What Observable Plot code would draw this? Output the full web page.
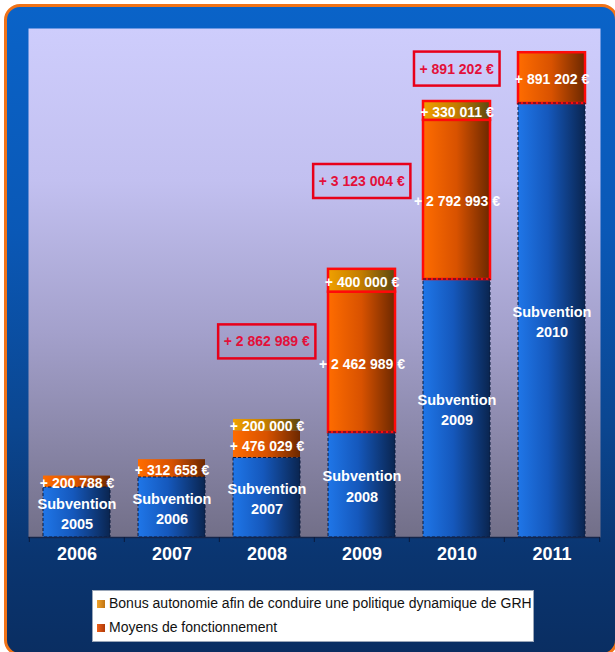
<!DOCTYPE html>
<html>
<head>
<meta charset="utf-8">
<script src="https://cdn.jsdelivr.net/npm/d3@7"></script>
<script src="https://cdn.jsdelivr.net/npm/@observablehq/plot@0.6"></script>
<style>
  html, body { margin: 0; padding: 0; background: #ffffff; overflow: hidden; }
  #page { position: relative; width: 615px; height: 652px; overflow: hidden; }
  #frame {
    position: absolute; left: 4px; top: 4px; width: 614px; height: 652px;
    box-sizing: border-box; border: 3px solid #f07318; border-radius: 16px;
    background: linear-gradient(to bottom, #0a63c8 0%, #0a58b6 35%, #0b4690 65%, #0a3570 85%, #0a2e62 100%);
  }
  #chart { position: absolute; left: 0; top: 0; }
  #legend {
    position: absolute; left: 92px; top: 590px; width: 442px; height: 52px;
    box-sizing: border-box; background: #ffffff; border: 1px solid #9aa6b8;
    font-family: "Liberation Sans", Arial, sans-serif; font-size: 14px; color: #111;
  }
  .item { position: absolute; left: 4px; height: 16px; line-height: 16px; white-space: nowrap; }
  .sw { display: inline-block; width: 8px; height: 8px; margin-right: 4px; vertical-align: 0px; }
</style>
</head>
<body>
<div id="page">
  <div id="frame"></div>
  <div id="chart"></div>
  <div id="legend">
    <div class="item" style="top:4px"><span class="sw" style="background:linear-gradient(to right,#f2a32a,#c07412)"></span>Bonus autonomie afin de conduire une politique dynamique de GRH</div>
    <div class="item" style="top:28px"><span class="sw" style="background:linear-gradient(to right,#ee6018,#b03a08)"></span>Moyens de fonctionnement</div>
  </div>
</div>
<script>
// ---- data (euros) ----
const years = ["2006", "2007", "2008", "2009", "2010", "2011"];
const subventionLabels = ["Subvention\n2005", "Subvention\n2006", "Subvention\n2007", "Subvention\n2008", "Subvention\n2009", "Subvention\n2010"];
const subvention = [877000, 1053000, 1395000, 1842000, 4526000, 7614000];
const moyens = [200788, 312658, 476029, 2462989, 2792993, 891202];
const bonus = [0, 0, 200000, 400000, 330011, 0];
const highlightYears = ["2009", "2010", "2011"];

const fmt = v => "+ " + d3.format(",")(v).replace(/,/g, " ") + " €";

const rows = years.flatMap((yr, i) => [
  {year: yr, series: "Subvention", value: subvention[i], label: subventionLabels[i]},
  {year: yr, series: "Moyens", value: moyens[i], label: fmt(moyens[i])},
  {year: yr, series: "Bonus", value: bonus[i], label: fmt(bonus[i])}
]);

const sums = years.map((yr, i) => ({
  year: yr, total: moyens[i] + bonus[i], mid: subvention[i] + (moyens[i] + bonus[i]) / 2
})).filter(d => highlightYears.includes(d.year));

const gradOf = {Subvention: "url(#gBlue)", Moyens: "url(#gMoyens)", Bonus: "url(#gBonus)"};

const W = 615, H = 580, mL = 28, mR = 15, mT = 28, mB = 43;
const step = (W - mL - mR) / years.length;
const font = "Liberation Sans, Arial, sans-serif";
const SUM_RED = "#e3103a";

const plot = Plot.plot({
  width: W, height: H,
  marginLeft: mL, marginRight: mR, marginTop: mT, marginBottom: mB,
  style: {background: "transparent", fontFamily: font, overflow: "visible"},
  x: {domain: years, paddingInner: 0.29, paddingOuter: 0.145, axis: null, label: null},
  y: {domain: [0, 8.93e6], axis: null, label: null},
  marks: [
    Plot.frame({fill: "url(#gPlot)", stroke: "none"}),
    Plot.barY(rows, Plot.stackY({
      x: "year", y: "value", z: "series",
      fill: d => gradOf[d.series],
      stroke: d => (d.series !== "Subvention" && d.value > 0 && highlightYears.includes(d.year)) ? "#ff0a0a" : "none",
      strokeWidth: 2.5,
      inset: 0
    })),
    Plot.barY(rows, Plot.stackY({
      x: "year", y: "value", z: "series",
      fill: null,
      stroke: d => d.series === "Subvention" ? "#0a1a3c" : "none",
      strokeWidth: 1, strokeDasharray: "3,2",
      inset: 0
    })),
    Plot.ruleY([0], {stroke: "#14254a", strokeWidth: 1.5}),
    Plot.axisX({ticks: years, tickSize: 5, tickFormat: () => "", label: null, dx: -step / 2, stroke: "#0a1a3c"}),
    Plot.axisX({ticks: [years[years.length - 1]], tickSize: 5, tickFormat: () => "", label: null, dx: step / 2, stroke: "#0a1a3c"}),
    Plot.text(rows.filter(d => d.value > 0), Plot.stackY({
      x: "year", y: "value", z: "series",
      text: "label",
      fill: "white", fontWeight: "bold",
      fontSize: d => d.series === "Subvention" ? 14.5 : 14,
      lineHeight: 1.4,
      fontFamily: font
    })),
    Plot.text(sums, {
      x: "year", y: "mid", text: d => fmt(d.total),
      dx: -step, dy: -9,
      fill: SUM_RED, fontWeight: "bold", fontSize: 14, fontFamily: font,
      className: "sumlabel"
    }),
    Plot.text(years, {
      x: d => d, frameAnchor: "bottom", dy: 22, text: d => d,
      fill: "white", fontWeight: "bold", fontSize: 18, fontFamily: font
    })
  ]
});

document.getElementById("chart").appendChild(plot);

// gradient definitions
const svg = d3.select(plot);
const defs = svg.insert("defs", ":first-child");
function grad(id, stops, vertical) {
  const g = defs.append("linearGradient").attr("id", id)
    .attr("x1", 0).attr("y1", 0).attr("x2", vertical ? 0 : 1).attr("y2", vertical ? 1 : 0);
  stops.forEach(([o, c]) => g.append("stop").attr("offset", o).attr("stop-color", c));
}
grad("gPlot", [[0, "#cecdfc"], [0.3, "#c2c0f0"], [0.6, "#a3a0cb"], [1, "#726f88"]], true);
grad("gBlue", [[0, "#1f76e8"], [0.45, "#1558bc"], [1, "#0a2550"]], false);
grad("gMoyens", [[0, "#ff6c00"], [0.5, "#d85200"], [1, "#6c2800"]], false);
grad("gBonus", [[0, "#f0a000"], [0.5, "#c27c00"], [1, "#5c4810"]], false);

// boxes around the sum annotations
let sumTexts = svg.selectAll(".sumlabel text");
if (sumTexts.empty()) {
  sumTexts = svg.selectAll("g").filter(function () {
    return (this.getAttribute("fill") || "").toLowerCase() === SUM_RED;
  }).selectAll("text");
}
sumTexts.each(function () {
  const b = this.getBBox();
  const r = document.createElementNS("http://www.w3.org/2000/svg", "rect");
  r.setAttribute("x", b.x - 5.5);
  r.setAttribute("y", b.y - 9);
  r.setAttribute("width", b.width + 11);
  r.setAttribute("height", b.height + 18);
  r.setAttribute("fill", "none");
  r.setAttribute("stroke", "#e8001a");
  r.setAttribute("stroke-width", 2.5);
  const t = this.getAttribute("transform");
  if (t) r.setAttribute("transform", t);
  this.parentNode.insertBefore(r, this);
});
</script>
</body>
</html>
